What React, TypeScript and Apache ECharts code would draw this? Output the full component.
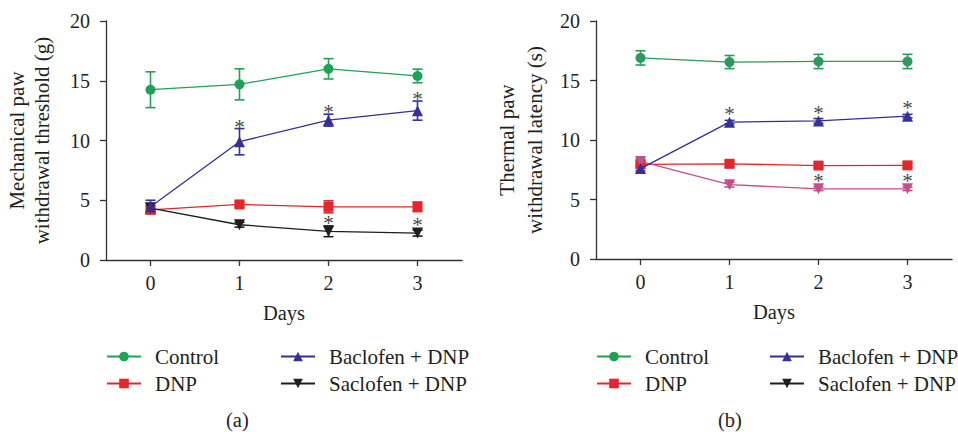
import React, { useEffect, useRef } from 'react';
import * as echarts from 'echarts';

// ---- data ----
const days = ['0', '1', '2', '3'];
const groupNames = ['Control', 'DNP', 'Baclofen + DNP', 'Saclofen + DNP'];

// (a) Mechanical paw withdrawal threshold (g)
const ctrlMechMean = [14.25, 14.7, 16.0, 15.4];
const ctrlMechErr = [1.5, 1.3, 0.85, 0.57];
const dnpMechMean = [4.2, 4.65, 4.45, 4.45];
const dnpMechErr = [0.3, 0.2, 0.5, 0.4];
const bacMechMean = [4.45, 9.9, 11.7, 12.5];
const bacMechErr = [0.55, 1.1, 0.5, 0.8];
const sacMechMean = [4.35, 2.95, 2.4, 2.25];
const sacMechErr = [0.4, 0.2, 0.45, 0.25];
const bacMechSig = [0, 1, 1, 1];
const sacMechSig = [0, 0, 1, 1];

// (b) Thermal paw withdrawal latency (s)
const ctrlThermMean = [16.9, 16.55, 16.6, 16.6];
const ctrlThermErr = [0.6, 0.55, 0.6, 0.6];
const dnpThermMean = [7.95, 8.0, 7.85, 7.87];
const dnpThermErr = [0.3, 0.25, 0.2, 0.2];
const bacThermMean = [7.6, 11.5, 11.6, 12.0];
const bacThermErr = [0.2, 0.15, 0.2, 0.15];
const sacThermMean = [8.2, 6.25, 5.9, 5.9];
const sacThermErr = [0.2, 0.2, 0.15, 0.15];
const bacThermSig = [0, 1, 1, 1];
const sacThermSig = [0, 0, 1, 1];
const noSig = [0, 0, 0, 0];

const yTicks = { min: 0, max: 20, interval: 5 };

// ---- styles ----
const FONT = '"Liberation Serif", "Times New Roman", serif';
const TXT = '#231f20';
const AX = '#333333';
const GREEN_A = '#1fa257';
const GREEN_B = '#2a9a5e';
const RED = '#e2262b';
const BLUE = '#352f97';
const BLACK = '#1e1e1e';
const PINK = '#c1508c';

function lineSeries(name: string, data: number[], color: string, symbol: string, rotate: number, size: number, gi: number, z: number) {
  return {
    type: 'line',
    name,
    xAxisIndex: gi,
    yAxisIndex: gi,
    data,
    symbol,
    symbolRotate: rotate,
    symbolSize: size,
    showSymbol: true,
    lineStyle: { color, width: 1.3 },
    itemStyle: { color, opacity: 1 },
    z,
  };
}

function errSeries(id: string, mean: number[], err: number[], sig: number[], color: string, gi: number, z: number) {
  return {
    type: 'custom',
    name: id,
    xAxisIndex: gi,
    yAxisIndex: gi,
    data: mean.map((m, i) => [i, m, err[i], sig[i]]),
    encode: { x: 0, y: 1 },
    z,
    clip: false,
    renderItem: (params: any, api: any) => {
      const x = api.value(0);
      const m = api.value(1);
      const e = api.value(2);
      const s = api.value(3);
      const top = api.coord([x, m + e]);
      const bot = api.coord([x, m - e]);
      const c = api.coord([x, m]);
      const children: any[] = [];
      const st = { stroke: color, lineWidth: 1.6 };
      if (e > 0) {
        children.push({ type: 'line', shape: { x1: top[0], y1: top[1], x2: bot[0], y2: bot[1] }, style: st });
        children.push({ type: 'line', shape: { x1: top[0] - 5, y1: top[1], x2: top[0] + 5, y2: top[1] }, style: st });
        children.push({ type: 'line', shape: { x1: bot[0] - 5, y1: bot[1], x2: bot[0] + 5, y2: bot[1] }, style: st });
      }
      if (s) {
        const y = Math.min(top[1], c[1] - 6) - 6;
        children.push({
          type: 'text',
          style: { text: '*', x: c[0], y: y + 4, align: 'center', verticalAlign: 'middle', fontSize: 21, fontFamily: FONT, fill: '#4a4a4a' },
        });
      }
      return { type: 'group', children };
    },
  };
}

function legendCol(names: string[], left: number, top: number, override?: Record<string, string>) {
  return {
    orient: 'vertical',
    left,
    top,
    padding: 0,
    itemWidth: 34,
    itemHeight: 12,
    itemGap: 6,
    selectedMode: false,
    textStyle: { fontFamily: FONT, fontSize: 21, color: TXT, lineHeight: 21, padding: [0, 0, 0, 9] },
    data: names.map((n) =>
      override && override[n]
        ? { name: n, itemStyle: { color: override[n] }, lineStyle: { color: override[n] } }
        : { name: n }
    ),
  };
}

function xAxis(gi: number) {
  return {
    type: 'category',
    gridIndex: gi,
    data: days,
    boundaryGap: true,
    name: 'Days',
    nameLocation: 'middle',
    nameGap: 42,
    nameTextStyle: { fontFamily: FONT, fontSize: 20.5, color: TXT },
    axisLine: { show: true, lineStyle: { color: AX, width: 1.3 } },
    axisTick: { show: true, alignWithLabel: true, length: 6, lineStyle: { color: AX, width: 1.3 } },
    axisLabel: { fontFamily: FONT, fontSize: 20, color: TXT, margin: 13 },
    splitLine: { show: false },
  };
}

function yAxis(gi: number, name: string, nameGap: number, lh: number) {
  return {
    type: 'value',
    gridIndex: gi,
    min: yTicks.min,
    max: yTicks.max,
    interval: yTicks.interval,
    name,
    nameLocation: 'middle',
    nameGap,
    nameRotate: 90,
    nameTextStyle: { fontFamily: FONT, fontSize: 21, color: TXT, lineHeight: lh },
    axisLine: { show: true, lineStyle: { color: AX, width: 1.3 } },
    axisTick: { show: true, length: 6, lineStyle: { color: AX, width: 1.3 } },
    axisLabel: { fontFamily: FONT, fontSize: 20, color: TXT, margin: 16 },
    splitLine: { show: false },
  };
}

export default function App() {
  const ref = useRef<HTMLDivElement>(null);
  useEffect(() => {
    document.body.style.margin = '0';
    const chart = echarts.init(ref.current!, null, { renderer: 'svg' });
    const option: any = {
      animation: false,
      backgroundColor: '#ffffff',
      grid: [
        { left: 106, top: 21, width: 356, height: 239, containLabel: false, outerBoundsMode: 'none' },
        { left: 596, top: 21, width: 356, height: 238, containLabel: false, outerBoundsMode: 'none' },
      ],
      xAxis: [xAxis(0), xAxis(1)],
      yAxis: [
        yAxis(0, 'Mechanical paw\nwithdrawal threshold (g)', 52, 25),
        yAxis(1, 'Thermal paw\nwithdrawal latency (s)', 47, 28),
      ],
      legend: [
        legendCol([groupNames[0], groupNames[1]], 106, 346),
        legendCol([groupNames[2], groupNames[3]], 280, 346),
        legendCol([groupNames[0], groupNames[1]], 596, 346),
        legendCol([groupNames[2], groupNames[3]], 769, 346, { [groupNames[3]]: BLACK }),
      ],
      graphic: [
        { type: 'text', left: 226, top: 409, style: { text: '(a)', fontFamily: FONT, fontSize: 20.5, fill: TXT } },
        { type: 'text', left: 718, top: 409, style: { text: '(b)', fontFamily: FONT, fontSize: 20.5, fill: TXT } },
      ],
      series: [
        // (a)
        errSeries('errCtrlA', ctrlMechMean, ctrlMechErr, noSig, GREEN_A, 0, 1),
        errSeries('errDnpA', dnpMechMean, dnpMechErr, noSig, RED, 0, 1),
        errSeries('errBacA', bacMechMean, bacMechErr, bacMechSig, BLUE, 0, 1),
        errSeries('errSacA', sacMechMean, sacMechErr, sacMechSig, BLACK, 0, 1),
        lineSeries(groupNames[0], ctrlMechMean, GREEN_A, 'circle', 0, 10, 0, 3),
        lineSeries(groupNames[1], dnpMechMean, RED, 'rect', 0, 10, 0, 3),
        lineSeries(groupNames[3], sacMechMean, BLACK, 'triangle', 180, 11, 0, 4),
        lineSeries(groupNames[2], bacMechMean, BLUE, 'triangle', 0, 11, 0, 5),
        // (b)
        errSeries('errCtrlB', ctrlThermMean, ctrlThermErr, noSig, GREEN_B, 1, 1),
        errSeries('errDnpB', dnpThermMean, dnpThermErr, noSig, RED, 1, 1),
        errSeries('errBacB', bacThermMean, bacThermErr, bacThermSig, BLUE, 1, 1),
        errSeries('errSacB', sacThermMean, sacThermErr, sacThermSig, PINK, 1, 1),
        lineSeries(groupNames[0], ctrlThermMean, GREEN_B, 'circle', 0, 10, 1, 3),
        lineSeries(groupNames[1], dnpThermMean, RED, 'rect', 0, 10, 1, 3),
        lineSeries(groupNames[3], sacThermMean, PINK, 'triangle', 180, 11, 1, 4),
        lineSeries(groupNames[2], bacThermMean, BLUE, 'triangle', 0, 11, 1, 5),
      ],
    };
    chart.setOption(option);
    return () => chart.dispose();
  }, []);
  return <div ref={ref} style={{ width: 958, height: 432 }} />;
}
